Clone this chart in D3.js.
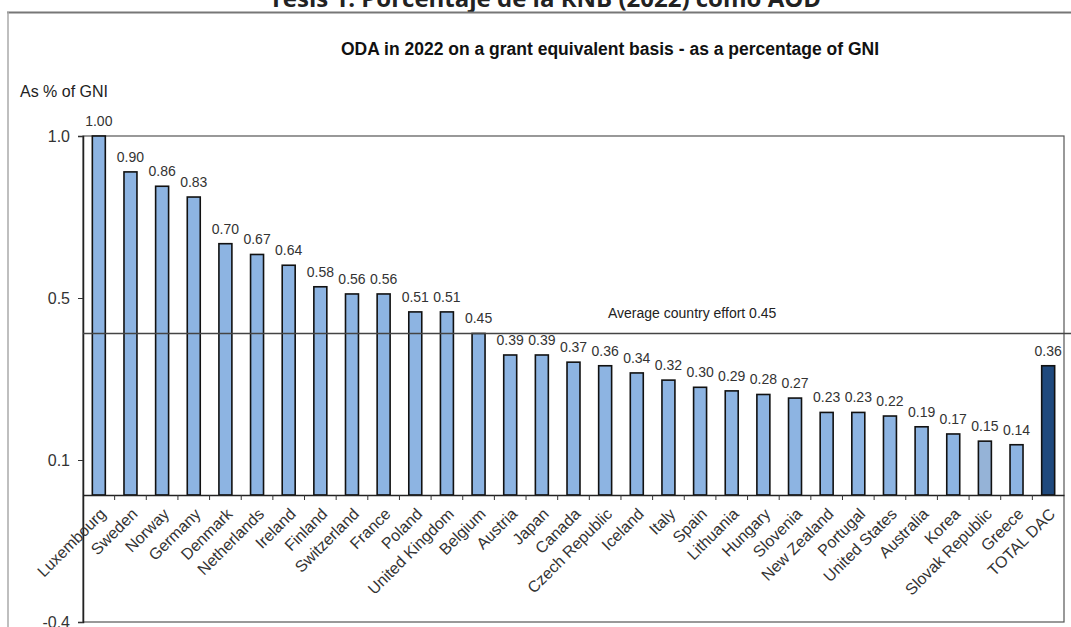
<!DOCTYPE html>
<meta charset="utf-8">
<script src="https://d3js.org/d3.v7.min.js"></script>
<style>
  body { margin: 0; background: #fff; }
  text { font-family: "Liberation Sans", Arial, sans-serif; }
</style>
<div id="divsvg"></div>
<script>
// data
var countries = ["Luxembourg", "Sweden", "Norway", "Germany", "Denmark", "Netherlands", "Ireland",
  "Finland", "Switzerland", "France", "Poland", "United Kingdom", "Belgium", "Austria", "Japan",
  "Canada", "Czech Republic", "Iceland", "Italy", "Spain", "Lithuania", "Hungary", "Slovenia",
  "New Zealand", "Portugal", "United States", "Australia", "Korea", "Slovak Republic", "Greece", "TOTAL DAC"];
var odaValues = [1.00, 0.90, 0.86, 0.83, 0.70, 0.67, 0.64, 0.58, 0.56, 0.56, 0.51, 0.51, 0.45, 0.39, 0.39,
  0.37, 0.36, 0.34, 0.32, 0.30, 0.29, 0.28, 0.27, 0.23, 0.23, 0.22, 0.19, 0.17, 0.15, 0.14, 0.36];
var yTickLabels = ["1.0", "0.5", "0.1", "-0.4"];
var averageEffort = 0.45;

var data = countries.map(function(c, i) { return {country: c, value: odaValues[i]}; });

var W = 1071, H = 627;
var plotLeft = 83, plotRight = 1064, plotTop = 136, base = 495, plotBottom = 622;

var svg = d3.select("#divsvg").append("svg")
  .attr("width", W).attr("height", H);

// header of the page (mostly cut off at the top)
svg.append("text")
  .attr("x", 545).attr("y", 7)
  .attr("text-anchor", "middle")
  .style("font-family", "'Open Sans', sans-serif")
  .style("font-weight", "bold").style("font-size", "24px")
  .attr("fill", "#222")
  .text("Tesis 1. Porcentaje de la RNB (2022) como AOD");

// outer frame
svg.append("line").attr("x1", 7).attr("x2", W).attr("y1", 12.5).attr("y2", 12.5)
  .attr("stroke", "#777").attr("stroke-width", 2);
svg.append("line").attr("x1", 8).attr("x2", 8).attr("y1", 12).attr("y2", H)
  .attr("stroke", "#aaa").attr("stroke-width", 1.5);

// plot box
svg.append("rect")
  .attr("x", plotLeft).attr("y", plotTop)
  .attr("width", plotRight - plotLeft).attr("height", plotBottom - plotTop)
  .attr("fill", "none").attr("stroke", "#555").attr("stroke-width", 1.2);

// scales
var x = d3.scaleBand().domain(countries).range([plotLeft, plotRight]).paddingInner(0.59).paddingOuter(0.295);
var y = d3.scaleLinear().domain([0, 1]).range([base, plotTop]);
var yAxisScale = d3.scalePoint().domain(yTickLabels).range([plotTop, plotBottom]);

svg.append("text").attr("x", 610).attr("y", 55)
  .attr("text-anchor", "middle")
  .style("font-weight", "bold").style("font-size", "17.5px").attr("fill", "#111")
  .text("ODA in 2022 on a grant equivalent basis - as a percentage of GNI");

svg.append("text").attr("x", 20).attr("y", 97)
  .style("font-size", "16px").attr("fill", "#222")
  .text("As % of GNI");

// y axis
var yAx = svg.append("g").attr("transform", "translate(" + plotLeft + ",0)")
  .call(d3.axisLeft(yAxisScale).tickSize(5).tickPadding(8));
yAx.select(".domain").attr("stroke", "#222").attr("stroke-width", 1.5);
yAx.selectAll(".tick line").attr("stroke", "#333");
yAx.selectAll("text").style("font-size", "16px").attr("fill", "#333")
  .style("font-family", "'Liberation Sans', Arial, sans-serif");

// bars
svg.selectAll("rect.bar")
  .data(data)
  .enter()
  .append("rect")
  .attr("class", "bar")
  .attr("x", function(d) { return x(d.country); })
  .attr("y", function(d) { return y(d.value); })
  .attr("width", x.bandwidth())
  .attr("height", function(d) { return base - y(d.value); })
  .attr("fill", function(d) {
    if (d.country == "TOTAL DAC") return "#1f497d";
    if (d.country == "Slovak Republic") return "#95b3d7";
    return "#8db4e2";
  })
  .attr("stroke", "#111").attr("stroke-width", 1.6);

// value labels
svg.selectAll("text.val")
  .data(data)
  .enter()
  .append("text")
  .attr("class", "val")
  .attr("x", function(d) { return x(d.country) + x.bandwidth() / 2; })
  .attr("y", function(d) { return y(d.value) - 10; })
  .attr("text-anchor", "middle")
  .style("font-size", "14px").attr("fill", "#333")
  .text(function(d) { return d.value.toFixed(2); });

// average line
svg.append("line")
  .attr("x1", plotLeft).attr("x2", W)
  .attr("y1", y(averageEffort)).attr("y2", y(averageEffort))
  .attr("stroke", "#444").attr("stroke-width", 1.5);
svg.append("text").attr("x", 608).attr("y", y(averageEffort) - 15)
  .style("font-size", "14px").attr("fill", "#222")
  .text("Average country effort " + averageEffort.toFixed(2));

// x axis
var xAx = svg.append("g").attr("transform", "translate(0," + base + ")")
  .call(d3.axisBottom(x).tickSize(0));
xAx.select(".domain").attr("stroke", "#222").attr("stroke-width", 1.5);
xAx.selectAll("text")
  .style("font-size", "16px").attr("fill", "#333")
  .style("font-family", "'Liberation Sans', Arial, sans-serif")
  .attr("y", 0).attr("dy", "0")
  .attr("text-anchor", "end")
  .attr("transform", "translate(8,20) rotate(-45)");

// ticks between categories
svg.selectAll("line.xtick")
  .data(countries.slice(1))
  .enter()
  .append("line")
  .attr("class", "xtick")
  .attr("x1", function(d) { return x(d) - x.step() * x.paddingInner() / 2; })
  .attr("x2", function(d) { return x(d) - x.step() * x.paddingInner() / 2; })
  .attr("y1", base).attr("y2", base + 5)
  .attr("stroke", "#333");
</script>
